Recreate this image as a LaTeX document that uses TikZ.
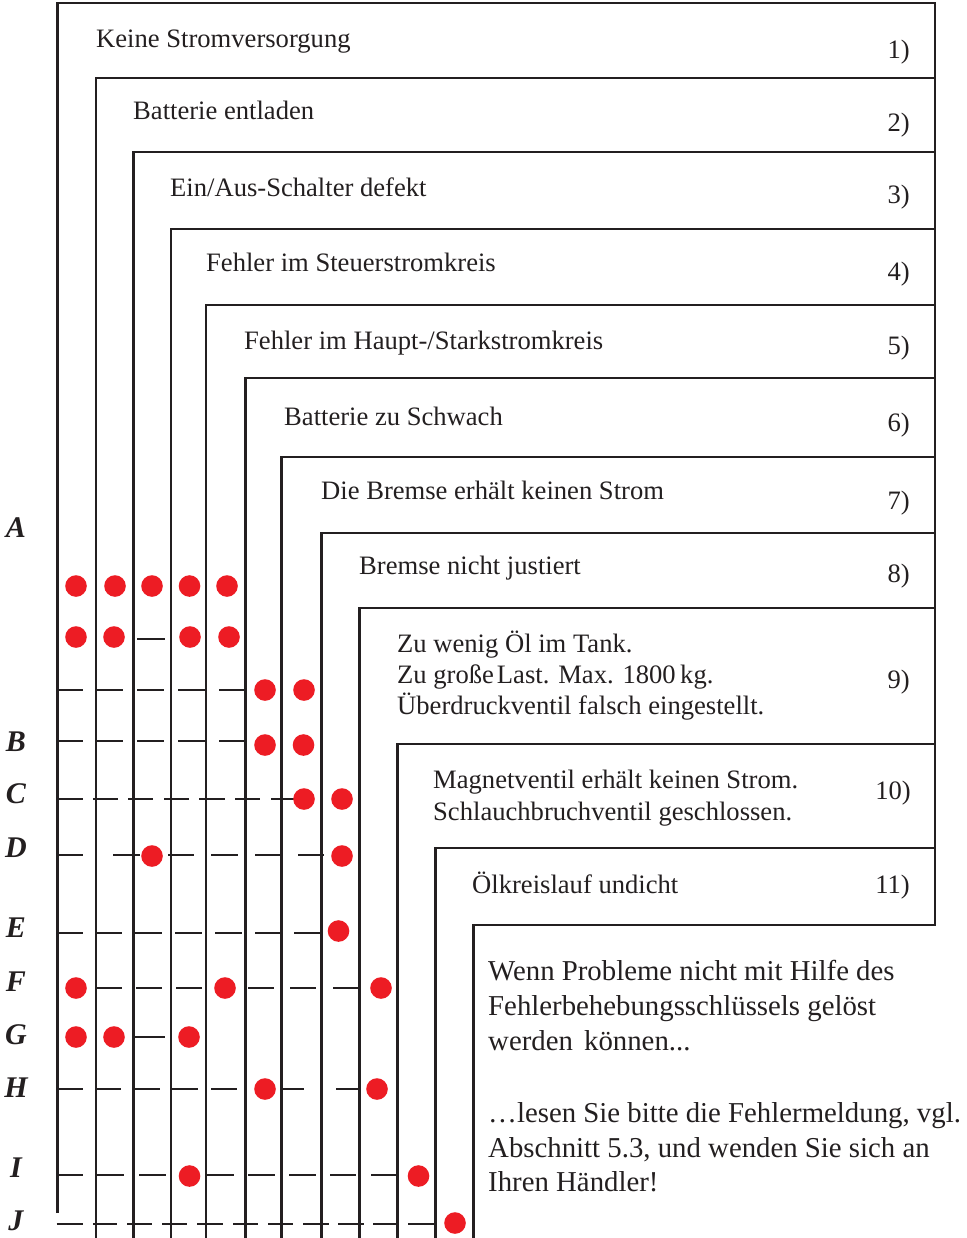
\documentclass[tikz,border=0pt]{standalone}
\usepackage{fontspec}
\setmainfont{Liberation Serif}
\definecolor{dotred}{RGB}{237,28,36}
\definecolor{ink}{RGB}{35,31,32}
\begin{document}
\begin{tikzpicture}[x=1pt,y=-1pt,
  ln/.style={draw=ink,line width=2.5pt,line join=miter},
  seg/.style={draw=ink,line width=2.5pt},
  rdot/.style={circle,fill=dotred,inner sep=0pt,minimum size=21.6pt},
  lbl/.style={anchor=base west,inner sep=0pt,font=\fontsize{26.6}{32}\selectfont,text=ink},
  num/.style={anchor=base east,inner sep=0pt,font=\fontsize{26.6}{32}\selectfont,text=ink},
  rowlbl/.style={anchor=base,inner sep=0pt,font=\fontsize{30}{32}\selectfont\bfseries\itshape,text=ink},
  note/.style={anchor=base west,inner sep=0pt,font=\fontsize{28.8}{35}\selectfont,text=ink}]
\useasboundingbox (0,0) rectangle (966,1238);

% outer frame and staircase
\draw[ln] (57.5,1213) -- (57.5,3) -- (935,3) -- (935,925) -- (473.5,925) -- (473.5,1238);
\foreach \x/\t in {96/78,133.5/152,171/229,206/305,245.5/378,281.5/457,321.5/533,359.5/608,397.5/744,435.5/848}
  \draw[ln] (\x,1238) -- (\x,\t) -- (935,\t);

% row segments
\draw[seg] (137,639) -- (165,639);
\foreach \a/\b in {57.5/83,96/123,137/164,178/205,219/245.5}{
  \draw[seg] (\a,690) -- (\b,690);
  \draw[seg] (\a,741) -- (\b,741);}
\foreach \a/\b in {57.5/83,93/118,128/153,164/189,199/225,235/260,271/297}
  \draw[seg] (\a,799) -- (\b,799);
\foreach \a/\b in {57.5/83,113/140,168/194,211/238,255/280,298/324}
  \draw[seg] (\a,855) -- (\b,855);
\foreach \a/\b in {57.5/83,96/122,135/162,175/202,215/242,255/282,294/321.5}
  \draw[seg] (\a,933) -- (\b,933);
\foreach \a/\b in {96/122,136/162,176/202,248/274,290/316,333/359.5}
  \draw[seg] (\a,988) -- (\b,988);
\draw[seg] (133.5,1037) -- (165,1037);
\foreach \a/\b in {57.5/83,96/121,134/160,172/198,211/237,281.5/304,336/359.5}
  \draw[seg] (\a,1089) -- (\b,1089);
\foreach \a/\b in {57.5/83,97/124,139/166,206/234,248/275,289/316,330/356,371/397.5}
  \draw[seg] (\a,1175) -- (\b,1175);
\foreach \a/\b in {56.5/83,93/117,127/152,162/187,197/223,233/258,268/293,303/329,338/364,373/399,408/435.5}
  \draw[seg] (\a,1224) -- (\b,1224);

% dots
\foreach \x [count=\i] in {76,115,152,189.5,227} \node[rdot] (pa\i) at (\x,586) {};
\foreach \x [count=\i] in {76,114,190,229} \node[rdot] (pb\i) at (\x,637) {};
\foreach \x [count=\i] in {265,304} \node[rdot] (pc\i) at (\x,690) {};
\foreach \x [count=\i] in {265,303.5} \node[rdot] (pB\i) at (\x,745) {};
\foreach \x [count=\i] in {304,342} \node[rdot] (pC\i) at (\x,799) {};
\foreach \x [count=\i] in {152,342} \node[rdot] (pD\i) at (\x,856) {};
\node[rdot] (pE1) at (338.5,931) {};
\foreach \x [count=\i] in {76,225,381} \node[rdot] (pF\i) at (\x,988) {};
\foreach \x [count=\i] in {76,114,189} \node[rdot] (pG\i) at (\x,1037) {};
\foreach \x [count=\i] in {265,377} \node[rdot] (pH\i) at (\x,1089) {};
\foreach \x [count=\i] in {189.5,418.5} \node[rdot] (pI\i) at (\x,1176) {};
\node[rdot] (pJ1) at (455,1223) {};

% box texts
\node[lbl] (t1) at (96,48) {Keine Stromversorgung};
\node[num] (n1) at (910,59) {1)};
\node[lbl] (t2) at (133,120) {Batterie entladen};
\node[num] (n2) at (910,132) {2)};
\node[lbl] (t3) at (170,197) {Ein/Aus-Schalter defekt};
\node[num] (n3) at (910,204) {3)};
\node[lbl] (t4) at (206,272) {Fehler im Steuerstromkreis};
\node[num] (n4) at (910,280) {4)};
\node[lbl] (t5) at (244,349) {Fehler im Haupt-/Starkstromkreis};
\node[num] (n5) at (910,354) {5)};
\node[lbl] (t6) at (284,425) {Batterie zu Schwach};
\node[num] (n6) at (910,431) {6)};
\node[lbl] (t7) at (321,499) {Die Bremse erhält keinen Strom};
\node[num] (n7) at (910,509) {7)};
\node[lbl] (t8) at (359,574) {Bremse nicht justiert};
\node[num] (n8) at (910,582) {8)};
\node[lbl] (t9a) at (397,652) {Zu wenig Öl im Tank.};
\node[lbl] (t9b) at (397,683) {Zu große\hspace{3pt}Last. Max. 1800\,kg.};
\node[lbl] (t9c) at (397,714) {Überdruckventil falsch eingestellt.};
\node[num] (n9) at (910,688) {9)};
\node[lbl] (t10a) at (433,788) {Magnetventil erhält keinen Strom.};
\node[lbl] (t10b) at (433,820) {Schlauchbruchventil geschlossen.};
\node[num] (n10) at (911,799) {10)};
\node[lbl] (t11) at (472,893) {Ölkreislauf undicht};
\node[num] (n11) at (910,893) {11)};

% note
\node[note] (m1) at (488,980) {Wenn Probleme nicht mit Hilfe des};
\node[note] (m2) at (488,1015) {Fehlerbehebungsschlüssels gelöst};
\node[note] (m3) at (488,1050) {werden\hspace{4pt} können...};
\node[note] (m4) at (488,1122) {…lesen Sie bitte die Fehlermeldung, vgl.};
\node[note] (m5) at (488,1157) {Abschnitt 5.3, und wenden Sie sich an};
\node[note] (m6) at (488,1191) {Ihren Händler!};

% row labels
\foreach \l/\y in {A/537,B/751,C/803,D/857,E/937,F/991,G/1044,H/1097,I/1177,J/1230}
  \node[rowlbl] (L\l) at (16,\y) {\l};
\end{tikzpicture}
\end{document}
